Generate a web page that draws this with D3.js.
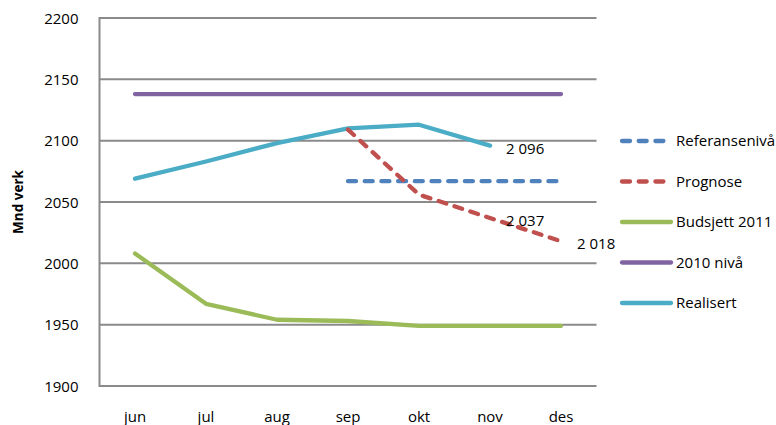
<!DOCTYPE html>
<html><head><meta charset="utf-8">
<script src="https://cdn.jsdelivr.net/npm/d3@7"></script>
<style>body{margin:0;background:#fff}svg{display:block}text{font-family:"Open Sans",sans-serif}</style>
</head><body><svg id="c" width="776" height="425"></svg>
<script>
const months = ["jun","jul","aug","sep","okt","nov","des"];
const yTicks = [1900,1950,2000,2050,2100,2150,2200];
const referanse = [null,null,null,2067,2067,2067,2067];
const prognose = [null,null,null,2109,2056,2037,2018];
const budsjett = [2008,1967,1954,1953,1949,1949,1949];
const niva2010 = [2138,2138,2138,2138,2138,2138,2138];
const realisert = [2069,2083,2098,2110,2113,2096,null];
const seriesNames = ["Referansenivå","Prognose","Budsjett 2011","2010 nivå","Realisert"];
const dataLabels = [{s:"Realisert",i:5,t:"2 096"},{s:"Prognose",i:5,t:"2 037"},{s:"Prognose",i:6,t:"2 018"}];

const series = [
  {name:seriesNames[0], values:referanse, color:"#4F81BD", dash:"8,8.7"},
  {name:seriesNames[1], values:prognose, color:"#C0504D", dash:"8,8.7"},
  {name:seriesNames[2], values:budsjett, color:"#9BBB59", dash:null},
  {name:seriesNames[3], values:niva2010, color:"#8064A2", dash:null},
  {name:seriesNames[4], values:realisert, color:"#4BACC6", dash:null}
];
const FS = 15;
const svg = d3.select("#c");
const L=99.5, R=596.5, T=18, B=386;
const x = d3.scaleBand().domain(months).range([L,R]);
const xc = m => x(m)+x.bandwidth()/2;
const y = d3.scaleLinear().domain([1900,2200]).range([B,T]);

svg.append("g").selectAll("line").data(yTicks).join("line")
  .attr("x1",L).attr("x2",R).attr("y1",d=>y(d)).attr("y2",d=>y(d))
  .attr("stroke","#8a8a8a").attr("stroke-width",2);
svg.append("line").attr("x1",L).attr("x2",L).attr("y1",T-1).attr("y2",B+1)
  .attr("stroke","#8a8a8a").attr("stroke-width",2);

const ya = svg.append("g").attr("transform",`translate(${L-18},0)`)
  .call(d3.axisLeft(y).tickValues(yTicks).tickSize(0).tickFormat(d3.format("d")));
ya.select(".domain").remove();
ya.selectAll("text").attr("font-size",FS).attr("fill","#000").attr("font-family","'Open Sans',sans-serif").attr("dy","0.35em");

const xa = svg.append("g").attr("transform",`translate(0,${B+20})`)
  .call(d3.axisBottom(x).tickSize(0));
xa.select(".domain").remove();
xa.selectAll("text").attr("font-size",FS).attr("fill","#000").attr("font-family","'Open Sans',sans-serif").attr("dy","0.85em");

svg.append("text").attr("transform","translate(23,202) rotate(-90)")
  .attr("text-anchor","middle").attr("font-size",13.5).attr("font-weight","bold").text("Mnd verk");

const line = d3.line().defined(d=>d.v!=null).x(d=>xc(d.m)).y(d=>y(d.v));
[2,3,4,0,1].forEach(k=>{
  const s = series[k];
  svg.append("path").datum(months.map((m,i)=>({m,v:s.values[i]})))
    .attr("d",line).attr("fill","none").attr("stroke",s.color).attr("stroke-width",4.3)
    .attr("stroke-linecap","round").attr("stroke-linejoin","round")
    .attr("stroke-dasharray", s.dash);
});

dataLabels.forEach(dl=>{
  const s = series.find(q=>q.name===dl.s);
  svg.append("text").attr("x",xc(months[dl.i])+16).attr("y",y(s.values[dl.i])+8)
    .attr("font-size",FS).attr("fill","#000").text(dl.t);
});

const lg = svg.append("g");
series.forEach((s,i)=>{
  const yy = 141 + i*40.5;
  lg.append("line").attr("x1",622).attr("x2",671).attr("y1",yy).attr("y2",yy)
    .attr("stroke",s.color).attr("stroke-width",4.3).attr("stroke-linecap","round")
    .attr("stroke-dasharray", s.dash);
  lg.append("text").attr("x",676).attr("y",yy).attr("dy","0.35em")
    .attr("font-size",FS).attr("fill","#000").text(s.name);
});
</script></body></html>
